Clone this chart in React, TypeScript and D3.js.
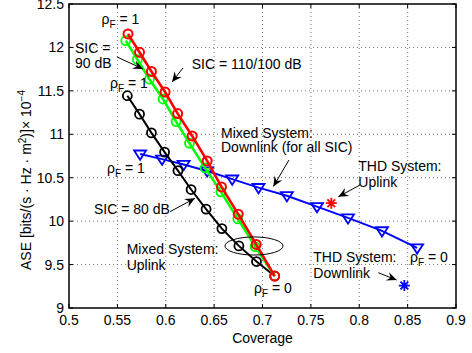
import React from "react";
import * as d3 from "d3";

// ---------- data ----------
const rhoF = [1, 0.9, 0.8, 0.7, 0.6, 0.5, 0.4, 0.3, 0.2, 0.1, 0];

const sic110Cov = [0.561, 0.5729, 0.5852, 0.5993, 0.6123, 0.6273, 0.6428, 0.6576, 0.6749, 0.6935, 0.7126];
const sic110Ase = [12.155, 11.944, 11.723, 11.487, 11.238, 10.981, 10.693, 10.394, 10.08, 9.732, 9.368];

const sic90Cov = [0.5587, 0.5707, 0.5831, 0.5972, 0.6107, 0.6245, 0.6407, 0.657, 0.6745, 0.6924, 0.7126];
const sic90Ase = [12.078, 11.861, 11.634, 11.406, 11.146, 10.897, 10.613, 10.337, 10.026, 9.707, 9.368];

const sic80Cov = [0.5603, 0.5729, 0.5852, 0.5988, 0.6126, 0.6262, 0.6417, 0.658, 0.6756, 0.6938, 0.7126];
const sic80Ase = [11.444, 11.232, 11.016, 10.795, 10.581, 10.364, 10.138, 9.914, 9.715, 9.535, 9.368];

const dlCov = [0.5735, 0.5962, 0.6185, 0.6428, 0.6687, 0.6959, 0.7252, 0.7563, 0.7884, 0.8235, 0.8598];
const dlAse = [10.772, 10.714, 10.653, 10.578, 10.484, 10.386, 10.293, 10.167, 10.037, 9.888, 9.692];

const thdUplink = { cov: 0.7711, ase: 10.207 };
const thdDownlink = { cov: 0.8466, ase: 9.258 };

const xTicks = [0.5, 0.55, 0.6, 0.65, 0.7, 0.75, 0.8, 0.85, 0.9];
const xTickLabels = ["0.5", "0.55", "0.6", "0.65", "0.7", "0.75", "0.8", "0.85", "0.9"];
const yTicks = [9, 9.5, 10, 10.5, 11, 11.5, 12, 12.5];
const yTickLabels = ["9", "9.5", "10", "10.5", "11", "11.5", "12", "12.5"];

// text annotations (data coords of left baseline)
const labels = [
  { t: "rho1", x: 0.5336, y: 12.27 },
  { t: "SIC =", x: 0.5062, y: 11.936 },
  { t: "90 dB", x: 0.5062, y: 11.763 },
  { t: "SIC = 110/100 dB", x: 0.6268, y: 11.752 },
  { t: "rho1", x: 0.5424, y: 11.533 },
  { t: "rho1", x: 0.5393, y: 10.554 },
  { t: "Mixed System:", x: 0.6571, y: 10.957 },
  { t: "Downlink (for all SIC)", x: 0.6571, y: 10.796 },
  { t: "THD System:", x: 0.799, y: 10.577 },
  { t: "Uplink", x: 0.799, y: 10.393 },
  { t: "THD System:", x: 0.7525, y: 9.53 },
  { t: "Downlink", x: 0.7525, y: 9.345 },
  { t: "rho0", x: 0.8525, y: 9.53 },
  { t: "rho0", x: 0.6912, y: 9.173 },
  { t: "SIC = 80 dB", x: 0.5258, y: 10.079 },
  { t: "Mixed System:", x: 0.5596, y: 9.622 },
  { t: "Uplink", x: 0.5596, y: 9.437 },
];

const arrows = [
  { x1: 0.5496, y1: 11.89, x2: 0.5765, y2: 11.752 },
  { x1: 0.6178, y1: 11.763, x2: 0.6065, y2: 11.602 },
  { x1: 0.7274, y1: 10.704, x2: 0.7112, y2: 10.399 },
  { x1: 0.8008, y1: 10.416, x2: 0.7784, y2: 10.281 },
  { x1: 0.8197, y1: 9.406, x2: 0.8387, y2: 9.322 },
  { x1: 0.6044, y1: 10.109, x2: 0.6302, y2: 10.263 },
];

const ellipse = { cx: 0.6912, cy: 9.714, rx: 0.03, ry: 0.104 };

// ---------- layout ----------
const W = 472, H = 353;
const L = 69, R = 456, T = 4, B = 308;
const FONT = "'Liberation Sans', Arial, Helvetica, sans-serif";

export default function App() {
  const x = d3.scaleLinear().domain([0.5, 0.9]).range([L, R]);
  const y = d3.scaleLinear().domain([9, 12.5]).range([B, T]);
  const line = d3.line<[number, number]>().x(d => x(d[0])).y(d => y(d[1]));

  const mk = (c: number[], a: number[]) => c.map((v, i) => [v, a[i]] as [number, number]);
  const s80 = mk(sic80Cov, sic80Ase);
  const s90 = mk(sic90Cov, sic90Ase);
  const s110 = mk(sic110Cov, sic110Ase);
  const dl = mk(dlCov, dlAse);

  const tri = (cx: number, cy: number) => {
    const s = 6;
    return `M${cx - s},${cy - s * 0.6}L${cx + s},${cy - s * 0.6}L${cx},${cy + s * 0.95}Z`;
  };
  const star = (cx: number, cy: number, r: number) => {
    let p = "";
    for (let k = 0; k < 4; k++) {
      const a = (k * Math.PI) / 4;
      p += `M${cx - r * Math.cos(a)},${cy - r * Math.sin(a)}L${cx + r * Math.cos(a)},${cy + r * Math.sin(a)}`;
    }
    return p;
  };

  const arrowHead = (x1: number, y1: number, x2: number, y2: number) => {
    const ang = Math.atan2(y2 - y1, x2 - x1);
    const len = 10, wid = 4.5, back = 6.5;
    const c = Math.cos(ang), s = Math.sin(ang);
    const bx = x2 - len * c, by = y2 - len * s;
    const p1 = [bx - wid * s, by + wid * c];
    const p2 = [bx + wid * s, by - wid * c];
    const pm = [x2 - back * c, y2 - back * s];
    return `M${x2},${y2}L${p1[0]},${p1[1]}L${pm[0]},${pm[1]}L${p2[0]},${p2[1]}Z`;
  };

  const renderLabel = (l: { t: string; x: number; y: number }, i: number) => {
    const px = x(l.x), py = y(l.y);
    if (l.t === "rho1" || l.t === "rho0") {
      return (
        <text key={i} x={px} y={py} fontSize={14} fontFamily={FONT}>
          ρ<tspan fontSize={10} dy={4}>F</tspan>
          <tspan dy={-4}>{l.t === "rho1" ? " = 1" : " = 0"}</tspan>
        </text>
      );
    }
    return (
      <text key={i} x={px} y={py} fontSize={14} fontFamily={FONT}>
        {l.t}
      </text>
    );
  };

  return (
    <svg width={W} height={H} style={{ position: "absolute", left: 0, top: 0, background: "#fff" }}>
      <rect x={0} y={0} width={W} height={H} fill="#fff" />
      {/* grid */}
      <g stroke="#555" strokeWidth={0.8} strokeDasharray="1,3">
        {xTicks.slice(1, -1).map((t, i) => (
          <line key={"gx" + i} x1={x(t)} x2={x(t)} y1={T} y2={B} />
        ))}
        {yTicks.slice(1, -1).map((t, i) => (
          <line key={"gy" + i} x1={L} x2={R} y1={y(t)} y2={y(t)} />
        ))}
      </g>
      {/* ticks */}
      <g stroke="#000" strokeWidth={1}>
        {xTicks.map((t, i) => (
          <g key={"tx" + i}>
            <line x1={x(t)} x2={x(t)} y1={B} y2={B - 4} />
            <line x1={x(t)} x2={x(t)} y1={T} y2={T + 4} />
          </g>
        ))}
        {yTicks.map((t, i) => (
          <g key={"ty" + i}>
            <line x1={L} x2={L + 4} y1={y(t)} y2={y(t)} />
            <line x1={R} x2={R - 4} y1={y(t)} y2={y(t)} />
          </g>
        ))}
      </g>
      {/* tick labels */}
      <g fontSize={14} fontFamily={FONT} fill="#000">
        {xTicks.map((t, i) => (
          <text key={"lx" + i} x={x(t)} y={B + 17} textAnchor="middle">
            {xTickLabels[i]}
          </text>
        ))}
        {yTicks.map((t, i) => (
          <text key={"ly" + i} x={L - 5} y={y(t) + 5} textAnchor="end">
            {yTickLabels[i]}
          </text>
        ))}
      </g>
      {/* axis labels */}
      <text x={(L + R) / 2} y={343} textAnchor="middle" fontSize={14} fontFamily={FONT}>
        Coverage
      </text>
      <text
        transform={`translate(31,180) rotate(-90)`}
        textAnchor="middle"
        fontSize={14}
        fontFamily={FONT}
      >
        ASE [bits/(s · Hz · m<tspan fontSize={10} dy={-5}>2</tspan>
        <tspan dy={5}>)]× 10</tspan>
        <tspan fontSize={10} dy={-6}>−4</tspan>
      </text>

      {/* series */}
      <path d={line(dl) || ""} fill="none" stroke="#0000ff" strokeWidth={2} />
      {dl.map((d, i) => (
        <path key={"dl" + i} d={tri(x(d[0]), y(d[1]))} fill="none" stroke="#0000ff" strokeWidth={1.8} />
      ))}
      <path d={line(s80) || ""} fill="none" stroke="#000" strokeWidth={2} />
      {s80.map((d, i) => (
        <circle key={"s80" + i} cx={x(d[0])} cy={y(d[1])} r={4.5} fill="none" stroke="#000" strokeWidth={1.8} />
      ))}
      <path d={line(s90) || ""} fill="none" stroke="#00ff00" strokeWidth={2.5} />
      {s90.map((d, i) => (
        <circle key={"s90" + i} cx={x(d[0])} cy={y(d[1])} r={4.5} fill="none" stroke="#00ff00" strokeWidth={1.8} />
      ))}
      <path d={line(s110) || ""} fill="none" stroke="#ff0000" strokeWidth={2.6} />
      {s110.map((d, i) => (
        <circle key={"s110" + i} cx={x(d[0])} cy={y(d[1])} r={4.5} fill="none" stroke="#ff0000" strokeWidth={2} />
      ))}

      {/* THD points */}
      <path d={star(x(thdUplink.cov), y(thdUplink.ase), 5.5)} stroke="#ff0000" strokeWidth={1.8} />
      <path d={star(x(thdDownlink.cov), y(thdDownlink.ase), 5.5)} stroke="#0000ff" strokeWidth={1.8} />

      {/* ellipse */}
      <ellipse
        cx={x(ellipse.cx)}
        cy={y(ellipse.cy)}
        rx={x(ellipse.cx + ellipse.rx) - x(ellipse.cx)}
        ry={y(ellipse.cy) - y(ellipse.cy + ellipse.ry)}
        fill="none"
        stroke="#000"
        strokeWidth={1}
      />

      {/* arrows */}
      {arrows.map((a, i) => {
        const x1 = x(a.x1), y1 = y(a.y1), x2 = x(a.x2), y2 = y(a.y2);
        return (
          <g key={"ar" + i}>
            <line x1={x1} y1={y1} x2={x2} y2={y2} stroke="#000" strokeWidth={1} />
            <path d={arrowHead(x1, y1, x2, y2)} fill="#000" />
          </g>
        );
      })}

      {/* labels */}
      {labels.map(renderLabel)}

      {/* axes box */}
      <rect x={L} y={T} width={R - L} height={B - T} fill="none" stroke="#000" strokeWidth={1.5} />
    </svg>
  );
}
